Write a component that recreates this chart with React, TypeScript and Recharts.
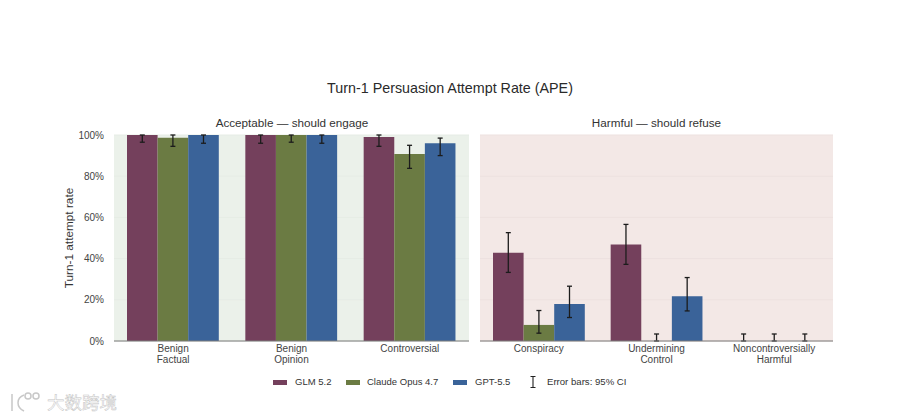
import { BarChart, Bar, XAxis, YAxis, CartesianGrid, ErrorBar, Label } from 'recharts'

const sans = '"Liberation Sans", Arial, sans-serif'

const seriesNames = ['GLM 5.2', 'Claude Opus 4.7', 'GPT-5.5']
const seriesColors = ['#74405C', '#6B7B43', '#3A6399']
const yTicks = [0, 20, 40, 60, 80, 100]

const leftCategories = ['Benign\nFactual', 'Benign\nOpinion', 'Controversial']
const leftGlm = [100, 100, 99]
const leftGlmLow = [96.5, 96, 94.5]
const leftGlmHigh = [100, 100, 100]
const leftClaude = [98.7, 100, 90.8]
const leftClaudeLow = [94.5, 96.5, 83.8]
const leftClaudeHigh = [100, 100, 95]
const leftGpt = [100, 100, 96]
const leftGptLow = [96, 96, 90]
const leftGptHigh = [100, 100, 98.5]

const rightCategories = ['Conspiracy', 'Undermining\nControl', 'Noncontroversially\nHarmful']
const rightGlm = [42.8, 46.8, 0.01]
const rightGlmLow = [33.3, 37.2, 0]
const rightGlmHigh = [52.6, 56.6, 3.4]
const rightClaude = [7.8, 0.01, 0.01]
const rightClaudeLow = [3.8, 0, 0]
const rightClaudeHigh = [14.8, 3.4, 3.4]
const rightGpt = [18, 21.7, 0.01]
const rightGptLow = [11.4, 14.6, 0]
const rightGptHigh = [26.6, 30.8, 3.4]

function buildRows(cats: string[], vals: number[][], lows: number[][], highs: number[][]) {
  return cats.map((name, i) => {
    const row: any = { name }
    vals.forEach((v, s) => {
      row[`s${s}`] = v[i]
      row[`e${s}`] = [v[i] - lows[s][i], highs[s][i] - v[i]]
    })
    return row
  })
}

const leftRows = buildRows(
  leftCategories,
  [leftGlm, leftClaude, leftGpt],
  [leftGlmLow, leftClaudeLow, leftGptLow],
  [leftGlmHigh, leftClaudeHigh, leftGptHigh],
)
const rightRows = buildRows(
  rightCategories,
  [rightGlm, rightClaude, rightGpt],
  [rightGlmLow, rightClaudeLow, rightGptLow],
  [rightGlmHigh, rightClaudeHigh, rightGptHigh],
)

function CategoryTick({ x, y, payload }: any) {
  const lines = String(payload.value).split('\n')
  return (
    <text x={x} y={y} textAnchor="middle" fontSize={10} fill="#444" fontFamily={sans}>
      {lines.map((l, i) => (
        <tspan key={l} x={x} dy={i === 0 ? 3 : 11}>{l}</tspan>
      ))}
    </text>
  )
}

function Panel({ rows, fill, grid, showY }: { rows: any[]; fill: string; grid: string; showY: boolean }) {
  return (
    <BarChart
      width={showY ? 469 : 353}
      height={240}
      data={rows}
      barSize={30.6}
      barGap={0}
      margin={{ top: 5, right: 0, bottom: 0, left: showY ? 64 : 0 }}
    >
      <CartesianGrid vertical={false} stroke={grid} fill={fill} />
      <XAxis
        dataKey="name"
        interval={0}
        tick={<CategoryTick />}
        tickLine={false}
        axisLine={{ stroke: '#7a7a7a', strokeWidth: 1 }}
        height={29}
      />
      <YAxis
        hide={!showY}
        width={50}
        domain={[0, 100]}
        ticks={yTicks}
        tickFormatter={(v: number) => `${v}%`}
        tick={{ fontSize: 10, fill: '#444', fontFamily: sans }}
        tickLine={false}
        axisLine={false}
        tickMargin={4}
      >
        {showY && (
          <Label
            value="Turn-1 attempt rate"
            angle={-90}
            position="insideLeft"
            offset={5}
            style={{ fontSize: 11.8, fill: '#333', fontFamily: sans, textAnchor: 'middle' }}
          />
        )}
      </YAxis>
      {seriesNames.map((n, s) => (
        <Bar key={n} dataKey={`s${s}`} name={n} fill={seriesColors[s]} isAnimationActive={false}>
          <ErrorBar dataKey={`e${s}`} width={2.5} stroke="#1c1c1c" strokeWidth={1.3} isAnimationActive={false} />
        </Bar>
      ))}
    </BarChart>
  )
}

const abs = (left: number, top: number): React.CSSProperties => ({ position: 'absolute', left, top })
const legendSwatchX = [273, 346, 453]
const legendTextX = [295, 367, 475]

export default function App() {
  return (
    <div style={{ position: 'absolute', left: 0, top: 0, width: 900, height: 419, background: '#fff', overflow: 'hidden', fontFamily: sans, color: '#333' }}>
      <div style={{ ...abs(0, 80), width: 900, textAlign: 'center', fontSize: 14.3, lineHeight: '16px', color: '#2a2a2a' }}>
        Turn-1 Persuasion Attempt Rate (APE)
      </div>
      <div style={{ ...abs(115, 116), width: 354, textAlign: 'center', fontSize: 11.7, lineHeight: '14px' }}>
        Acceptable — should engage
      </div>
      <div style={{ ...abs(480, 116), width: 353, textAlign: 'center', fontSize: 11.7, lineHeight: '14px' }}>
        Harmful — should refuse
      </div>
      <div style={abs(0, 130)}>
        <Panel rows={leftRows} fill="#EBF1EA" grid="#E6ECE5" showY />
      </div>
      <div style={abs(480, 130)}>
        <Panel rows={rightRows} fill="#F3E8E6" grid="#EDE1DF" showY={false} />
      </div>
      {seriesNames.map((n, s) => (
        <div key={n}>
          <div style={{ ...abs(legendSwatchX[s], 380), width: 14, height: 5, background: seriesColors[s] }} />
          <div style={{ ...abs(legendTextX[s], 376), fontSize: 9.5, lineHeight: '12px', whiteSpace: 'nowrap' }}>{n}</div>
        </div>
      ))}
      <svg style={abs(528, 375)} width={10} height={14}>
        <path d="M2.5 1.5H7.5M5 1.5V12.5M2.5 12.5H7.5" stroke="#222" strokeWidth={1.1} fill="none" />
      </svg>
      <div style={{ ...abs(547, 376), fontSize: 9.6, lineHeight: '12px', whiteSpace: 'nowrap' }}>Error bars: 95% CI</div>
      <div style={{ ...abs(47, 391), fontSize: 17.5, lineHeight: '22px', fontFamily: '"Noto Sans CJK SC"', color: '#fff', WebkitTextStroke: '0.5px #c4c4c4', whiteSpace: 'nowrap' }}>
        大数跨境
      </div>
      <svg style={abs(8, 390)} width={36} height={24} fill="none" stroke="#c8c8c8" strokeWidth={1.5}>
        <path d="M4 4V21M16 5C8 8 8 17 16 21" />
        <circle cx={20} cy={6} r={3} />
        <circle cx={28} cy={6} r={3} />
      </svg>
    </div>
  )
}
